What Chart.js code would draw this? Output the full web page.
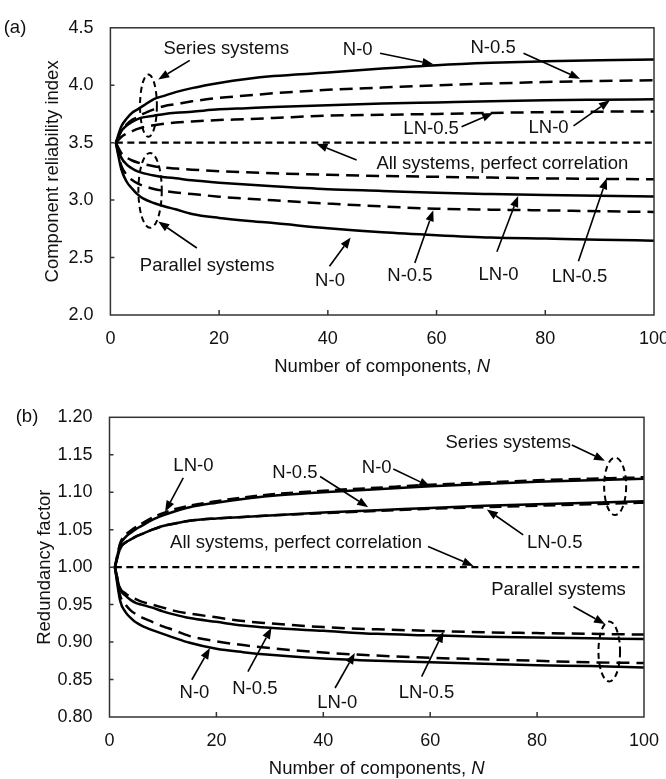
<!DOCTYPE html>
<html>
<head>
<meta charset="utf-8">
<script src="https://cdn.jsdelivr.net/npm/chart.js@4.4.1/dist/chart.umd.min.js"></script>
<style>
  html, body { margin: 0; padding: 0; background: #fff; }
  #wrap { position: relative; width: 666px; height: 779px; }
  canvas { position: absolute; left: 0; }
  #chartA { top: 0; }
  #chartB { top: 380px; }
</style>
</head>
<body>
<div id="wrap">
  <canvas id="chartA" width="666" height="380" style="width:666px;height:380px"></canvas>
  <canvas id="chartB" width="666" height="399" style="width:666px;height:399px"></canvas>
</div>
<script>
// ---- number of components ----
const nComponents = [1, 2, 3, 4, 5, 6, 8, 10, 12, 15, 20, 25, 30, 40, 50, 60, 70, 80, 90, 100];
const nPerfect = [1, 100];

// ---- (a) component reliability index ----
const betaSeriesN0    = [3.5, 3.64, 3.71, 3.76, 3.79, 3.82, 3.88, 3.91, 3.94, 3.975, 4.02, 4.055, 4.08, 4.11, 4.145, 4.175, 4.195, 4.208, 4.218, 4.225];
const betaSeriesN05   = [3.5, 3.60, 3.66, 3.70, 3.72, 3.75, 3.79, 3.82, 3.835, 3.86, 3.89, 3.91, 3.93, 3.96, 3.98, 4.0, 4.015, 4.028, 4.037, 4.044];
const betaSeriesLN0   = [3.5, 3.60, 3.65, 3.68, 3.705, 3.72, 3.735, 3.75, 3.76, 3.77, 3.79, 3.80, 3.81, 3.826, 3.84, 3.85, 3.86, 3.869, 3.874, 3.878];
const betaSeriesLN05  = [3.5, 3.55, 3.58, 3.60, 3.62, 3.635, 3.652, 3.665, 3.675, 3.685, 3.697, 3.705, 3.715, 3.735, 3.743, 3.75, 3.759, 3.766, 3.77, 3.772];
const betaPerfect     = [3.5, 3.5];
const betaParallelLN05 = [3.5, 3.41, 3.37, 3.345, 3.328, 3.315, 3.295, 3.283, 3.275, 3.265, 3.252, 3.242, 3.234, 3.22, 3.21, 3.203, 3.196, 3.189, 3.185, 3.181];
const betaParallelLN0  = [3.5, 3.37, 3.31, 3.275, 3.25, 3.235, 3.215, 3.2, 3.19, 3.173, 3.152, 3.135, 3.12, 3.095, 3.08, 3.064, 3.053, 3.044, 3.037, 3.031];
const betaParallelN05  = [3.5, 3.30, 3.22, 3.175, 3.145, 3.125, 3.097, 3.08, 3.067, 3.053, 3.03, 3.012, 2.998, 2.97, 2.945, 2.925, 2.917, 2.911, 2.903, 2.897];
const betaParallelN0   = [3.5, 3.27, 3.16, 3.10, 3.05, 3.015, 2.975, 2.945, 2.92, 2.88, 2.845, 2.82, 2.80, 2.755, 2.72, 2.695, 2.675, 2.665, 2.655, 2.647];

// ---- (b) redundancy factor ----
const rfSeriesN0     = [1.0, 1.030, 1.040, 1.046, 1.051, 1.055, 1.063, 1.069, 1.074, 1.080, 1.086, 1.091, 1.095, 1.100, 1.104, 1.108, 1.111, 1.114, 1.116, 1.118];
const rfSeriesLN0    = [1.0, 1.032, 1.043, 1.049, 1.054, 1.058, 1.066, 1.072, 1.077, 1.082, 1.088, 1.093, 1.097, 1.102, 1.106, 1.110, 1.113, 1.116, 1.118, 1.120];
const rfSeriesN05    = [1.0, 1.025, 1.033, 1.037, 1.041, 1.044, 1.050, 1.055, 1.058, 1.062, 1.065, 1.067, 1.069, 1.073, 1.076, 1.079, 1.082, 1.084, 1.086, 1.088];
const rfSeriesLN05   = [1.0, 1.025, 1.033, 1.037, 1.041, 1.044, 1.050, 1.055, 1.058, 1.062, 1.065, 1.067, 1.069, 1.072, 1.075, 1.078, 1.080, 1.082, 1.084, 1.086];
const rfPerfect      = [1.0, 1.0];
const rfParallelN05  = [1.0, 0.970, 0.962, 0.956, 0.952, 0.950, 0.946, 0.941, 0.937, 0.932, 0.927, 0.922, 0.919, 0.915, 0.911, 0.909, 0.907, 0.906, 0.905, 0.904];
const rfParallelLN05 = [1.0, 0.972, 0.965, 0.960, 0.957, 0.954, 0.950, 0.946, 0.942, 0.938, 0.933, 0.928, 0.925, 0.920, 0.917, 0.915, 0.913, 0.912, 0.911, 0.910];
const rfParallelN0   = [1.0, 0.955, 0.940, 0.932, 0.926, 0.922, 0.916, 0.911, 0.906, 0.899, 0.891, 0.8865, 0.883, 0.878, 0.875, 0.873, 0.871, 0.869, 0.868, 0.866];
const rfParallelLN0  = [1.0, 0.962, 0.950, 0.942, 0.937, 0.933, 0.927, 0.921, 0.916, 0.908, 0.901, 0.896, 0.892, 0.886, 0.882, 0.879, 0.877, 0.875, 0.873, 0.872];

// ---- axis ticks ----
const xTicks = [0, 20, 40, 60, 80, 100];
const betaTicks = [2.0, 2.5, 3.0, 3.5, 4.0, 4.5];
const rfTicks = [0.80, 0.85, 0.90, 0.95, 1.00, 1.05, 1.10, 1.15, 1.20];

// ---- callouts, in data units ----
const notesA = {
  tag: '(a)',
  texts: [
    ['Series systems', 21.3, 4.317], ['N-0', 45.5, 4.307], ['N-0.5', 70.4, 4.321],
    ['LN-0.5', 59.0, 3.617], ['LN-0', 80.6, 3.625],
    ['All systems, perfect correlation', 72.1, 3.314],
    ['Parallel systems', 17.8, 2.425], ['N-0', 40.4, 2.30], ['N-0.5', 55.1, 2.342],
    ['LN-0', 71.4, 2.35], ['LN-0.5', 86.3, 2.328]
  ],
  arrows: [
    [14.6, 4.217, 8.8, 4.05], [15.9, 2.583, 8.8, 2.814],
    [49.6, 4.278, 59.4, 4.183], [76.0, 4.278, 86.4, 4.056],
    [64.6, 3.639, 70.4, 3.758], [85.2, 3.647, 91.9, 3.869],
    [45.3, 3.35, 37.9, 3.49],
    [40.3, 2.425, 44.2, 2.675], [56.0, 2.453, 59.4, 2.911],
    [71.1, 2.55, 75.0, 3.036], [86.1, 2.467, 91.3, 3.19]
  ],
  ellipses: [[7.0, 3.822, 1.55, 0.271], [7.3, 3.085, 2.15, 0.326]]
};
const notesB = {
  tag: '(b)',
  texts: [
    ['LN-0', 15.7, 1.1347], ['N-0.5', 34.7, 1.1253], ['N-0', 50.0, 1.1327],
    ['Series systems', 74.6, 1.1657], ['LN-0.5', 83.3, 1.032],
    ['All systems, perfect correlation', 34.9, 1.032],
    ['Parallel systems', 84.0, 0.9693],
    ['N-0', 15.9, 0.832], ['N-0.5', 27.2, 0.837], ['LN-0', 42.6, 0.819], ['LN-0.5', 59.3, 0.832]
  ],
  arrows: [
    [13.8, 1.119, 10.4, 1.074], [39.4, 1.121, 48.4, 1.080], [53.1, 1.131, 60.0, 1.1075],
    [86.5, 1.163, 92.7, 1.142], [77.4, 1.043, 70.6, 1.077], [59.6, 1.0275, 68.1, 1.0017],
    [86.8, 0.9475, 92.7, 0.924],
    [15.4, 0.8497, 18.8, 0.892], [25.9, 0.8604, 30.3, 0.919],
    [42.2, 0.8387, 45.9, 0.8853], [58.4, 0.854, 62.5, 0.914]
  ],
  ellipses: [[94.6, 1.108, 2.06, 0.0384], [93.5, 0.8875, 2.02, 0.040]]
};

const FONT = '"Liberation Sans", Arial, Helvetica, sans-serif';
const INK = '#111';

function points(xs, ys) { return xs.map((x, i) => ({ x, y: ys[i] })); }

function curve(xs, ys, dashed, width) {
  return {
    data: points(xs, ys),
    borderColor: '#000',
    borderWidth: width || 2.5,
    borderDash: dashed || [],
    pointRadius: 0,
    fill: false,
    cubicInterpolationMode: 'monotone'
  };
}

// Frame, inward tick marks, x-axis title with italic N, panel tag and callouts
const decor = {
  id: 'decor',
  afterDraw(chart, args, opts) {
    const ctx = chart.ctx, a = chart.chartArea;
    const sx = chart.scales.x, sy = chart.scales.y;
    const P = (x, y) => [sx.getPixelForValue(x), sy.getPixelForValue(y)];
    ctx.save();

    ctx.strokeStyle = '#333';
    ctx.lineWidth = 1.5;
    ctx.strokeRect(a.left, a.top, a.right - a.left, a.bottom - a.top);
    ctx.beginPath();
    sx.ticks.forEach(t => {
      if (t.value > sx.min && t.value < sx.max) {
        const X = sx.getPixelForValue(t.value);
        ctx.moveTo(X, a.bottom); ctx.lineTo(X, a.bottom - 5);
      }
    });
    sy.ticks.forEach(t => {
      if (t.value > sy.min + 1e-9 && t.value < sy.max - 1e-9) {
        const Y = sy.getPixelForValue(t.value);
        ctx.moveTo(a.left, Y); ctx.lineTo(a.left + 4, Y);
      }
    });
    ctx.stroke();

    // x-axis title
    ctx.fillStyle = INK;
    ctx.textBaseline = 'alphabetic';
    ctx.textAlign = 'left';
    const plain = 'Number of components, ';
    ctx.font = '18.5px ' + FONT;
    const w1 = ctx.measureText(plain).width;
    ctx.font = 'italic 18.5px ' + FONT;
    const w2 = ctx.measureText('N').width;
    const x0 = (a.left + a.right) / 2 - (w1 + w2) / 2;
    const yb = a.bottom + 57;
    ctx.font = '18.5px ' + FONT;
    ctx.fillText(plain, x0, yb);
    ctx.font = 'italic 18.5px ' + FONT;
    ctx.fillText('N', x0 + w1, yb);

    // panel tag
    ctx.font = '18.5px ' + FONT;
    ctx.textAlign = 'center';
    ctx.textBaseline = 'middle';
    ctx.fillText(opts.notes.tag, opts.tagX, a.top);

    // callout texts
    opts.notes.texts.forEach(([s, x, y]) => {
      const [X, Y] = P(x, y);
      ctx.fillText(s, X, Y);
    });

    // arrows
    ctx.strokeStyle = '#000';
    ctx.fillStyle = '#000';
    opts.notes.arrows.forEach(([x1, y1, x2, y2]) => {
      const [X1, Y1] = P(x1, y1), [X2, Y2] = P(x2, y2);
      const ang = Math.atan2(Y2 - Y1, X2 - X1);
      const hl = 11, hw = 4.2;
      const bx = X2 - hl * Math.cos(ang), by = Y2 - hl * Math.sin(ang);
      ctx.lineWidth = 1.6;
      ctx.beginPath(); ctx.moveTo(X1, Y1); ctx.lineTo(bx, by); ctx.stroke();
      ctx.beginPath();
      ctx.moveTo(X2, Y2);
      ctx.lineTo(bx + hw * Math.sin(ang), by - hw * Math.cos(ang));
      ctx.lineTo(bx - hw * Math.sin(ang), by + hw * Math.cos(ang));
      ctx.closePath(); ctx.fill();
    });

    // dashed ellipses
    ctx.lineWidth = 2;
    ctx.setLineDash([6, 4]);
    opts.notes.ellipses.forEach(([x, y, rx, ry]) => {
      const [X, Y] = P(x, y);
      const RX = Math.abs(sx.getPixelForValue(x + rx) - X);
      const RY = Math.abs(sy.getPixelForValue(y + ry) - Y);
      ctx.beginPath(); ctx.ellipse(X, Y, RX, RY, 0, 0, Math.PI * 2); ctx.stroke();
    });
    ctx.setLineDash([]);
    ctx.restore();
  }
};

function makeChart(id, datasets, cfg) {
  return new Chart(document.getElementById(id), {
    type: 'line',
    data: { datasets },
    plugins: [decor],
    options: {
      responsive: false,
      animation: false,
      events: [],
      layout: { padding: { left: 0, right: cfg.padRight, top: cfg.padTop, bottom: 0 } },
      plugins: {
        legend: { display: false },
        tooltip: { enabled: false },
        decor: { notes: cfg.notes, tagX: cfg.tagX }
      },
      scales: {
        x: {
          type: 'linear', min: 0, max: 100,
          afterBuildTicks: s => { s.ticks = xTicks.map(v => ({ value: v })); },
          afterFit: s => { s.height = cfg.xHeight; s.paddingLeft = 0; s.paddingRight = 0; },
          grid: { display: false, drawTicks: false },
          border: { display: false },
          ticks: { padding: 13, color: INK, font: { family: FONT, size: 18 }, maxRotation: 0, autoSkip: false }
        },
        y: {
          type: 'linear', min: cfg.yMin, max: cfg.yMax,
          afterBuildTicks: s => { s.ticks = cfg.yTicks.map(v => ({ value: v })); },
          afterFit: s => { s.width = cfg.yWidth; },
          grid: { display: false, drawTicks: false },
          border: { display: false },
          ticks: { padding: 17, color: INK, font: { family: FONT, size: 18 },
                   callback: v => Number(v).toFixed(cfg.digits) },
          title: { display: true, text: cfg.yTitle, color: INK,
                   font: { family: FONT, size: 18.5 }, padding: { top: cfg.titlePad, bottom: 0 } }
        }
      }
    }
  });
}

const dashLong = [13, 7];
const dashShort = [7, 4.5];

makeChart('chartA', [
  curve(nComponents, betaSeriesN0),
  curve(nComponents, betaSeriesN05, dashLong),
  curve(nComponents, betaSeriesLN0),
  curve(nComponents, betaSeriesLN05, dashLong),
  curve(nPerfect, betaPerfect, dashShort, 2.2),
  curve(nComponents, betaParallelLN05, dashLong),
  curve(nComponents, betaParallelLN0),
  curve(nComponents, betaParallelN05, dashLong),
  curve(nComponents, betaParallelN0)
], {
  yMin: 2.0, yMax: 4.5, yTicks: betaTicks, digits: 1,
  yTitle: 'Component reliability index', titlePad: 41.5,
  yWidth: 110.4, xHeight: 65, padRight: 12, padTop: 16,
  notes: notesA, tagX: 15
});

makeChart('chartB', [
  curve(nComponents, rfSeriesLN0, [12, 6]),
  curve(nComponents, rfSeriesN0),
  curve(nComponents, rfSeriesLN05, [12, 6]),
  curve(nComponents, rfSeriesN05),
  curve(nPerfect, rfPerfect, dashShort, 2.2),
  curve(nComponents, rfParallelLN05, dashLong),
  curve(nComponents, rfParallelN05),
  curve(nComponents, rfParallelLN0, dashLong),
  curve(nComponents, rfParallelN0)
], {
  yMin: 0.8, yMax: 1.2, yTicks: rfTicks, digits: 2,
  yTitle: 'Redundancy factor', titlePad: 33.5,
  yWidth: 109.5, xHeight: 62, padRight: 22, padTop: 37.3,
  notes: notesB, tagX: 27
});
</script>
</body>
</html>
